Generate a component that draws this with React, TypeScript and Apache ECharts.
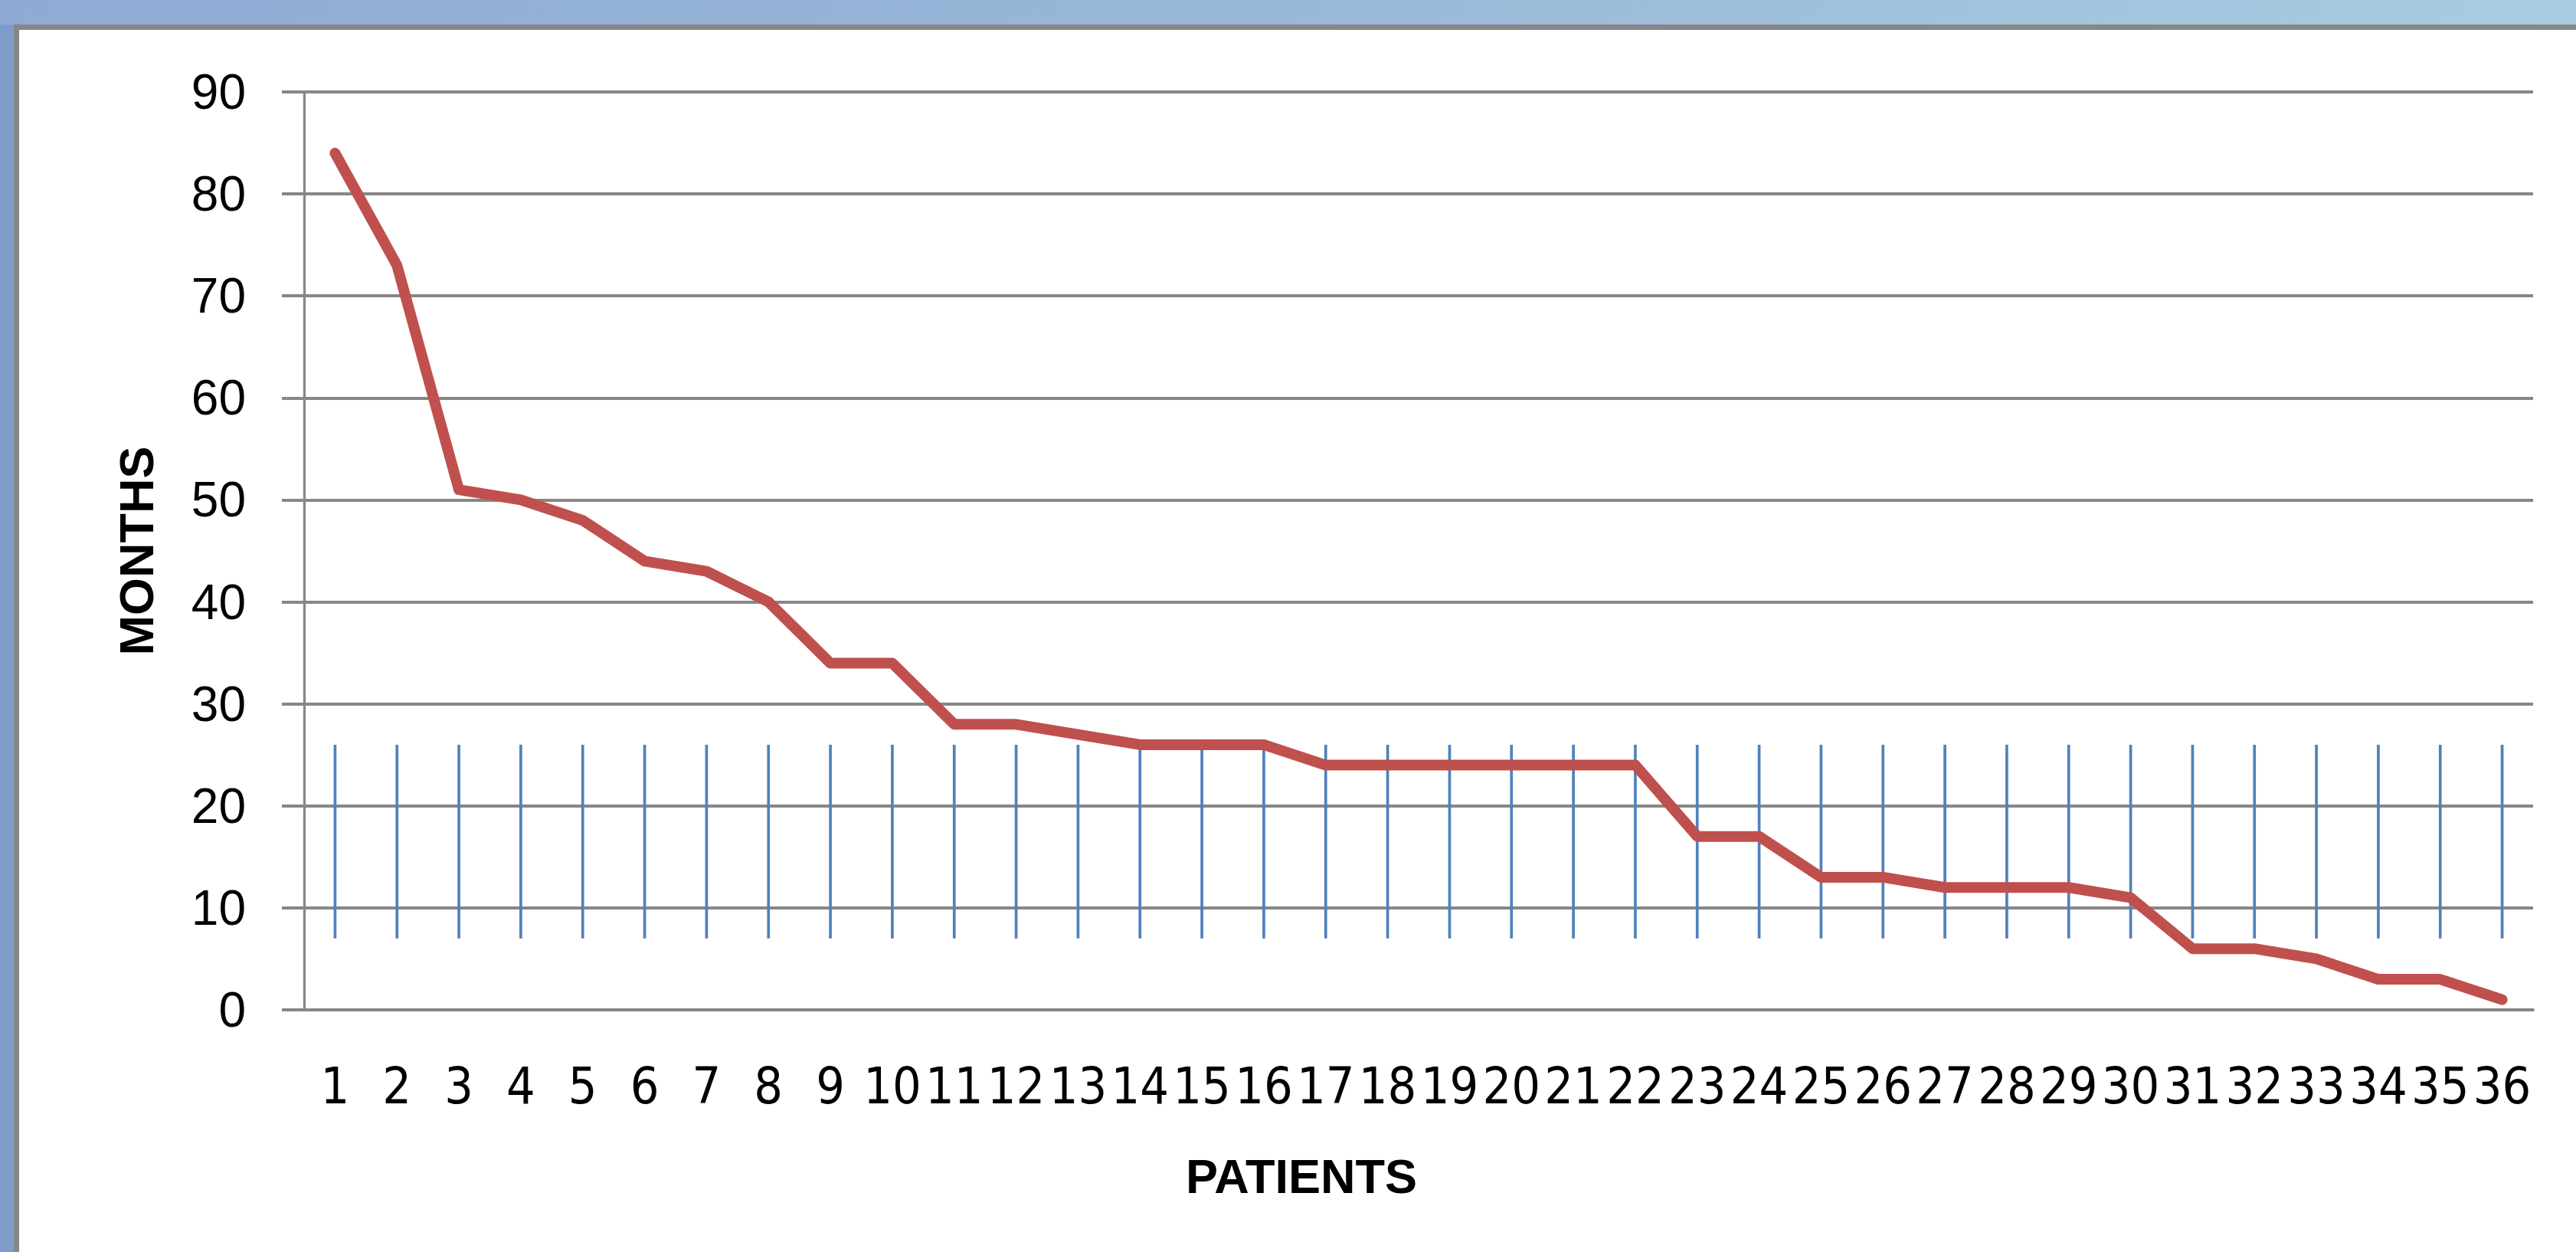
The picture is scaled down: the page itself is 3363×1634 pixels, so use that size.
import React, { useEffect, useRef } from "react";
import * as echarts from "echarts";

const patients = ["1","2","3","4","5","6","7","8","9","10","11","12","13","14","15","16","17","18","19","20","21","22","23","24","25","26","27","28","29","30","31","32","33","34","35","36"];
const months = [84,73,51,50,48,44,43,40,34,34,28,28,27,26,26,26,24,24,24,24,24,24,17,17,13,13,12,12,12,11,6,6,5,3,3,1];
const rangeLow = [7,7,7,7,7,7,7,7,7,7,7,7,7,7,7,7,7,7,7,7,7,7,7,7,7,7,7,7,7,7,7,7,7,7,7,7];
const rangeHigh = [26,26,26,26,26,26,26,26,26,26,26,26,26,26,26,26,26,26,26,26,26,26,26,26,26,26,26,26,26,26,26,26,26,26,26,26];
const yMin = 0;
const yMax = 90;
const yStep = 10;
const xTitle = "PATIENTS";
const yTitle = "MONTHS";

export default function App() {
  const ref = useRef<HTMLDivElement>(null);
  useEffect(() => {
    document.body.style.margin = "0";
    const chart = echarts.init(ref.current!, null, { renderer: "svg" });
    const gray = "#878787";
    const option: any = {
      animation: false,
      backgroundColor: "#ffffff",
      grid: { left: 397, right: 56, top: 120, bottom: 316, containLabel: false },
      xAxis: {
        type: "category",
        data: patients,
        boundaryGap: true,
        axisLine: { show: true, lineStyle: { color: gray, width: 4 } },
        axisTick: { show: false },
        splitLine: { show: false },
        axisLabel: {
          interval: 0,
          margin: 66,
          color: "#000",
          fontSize: 66,
          fontFamily: "'Liberation Sans Narrow', 'DejaVu Sans Condensed', 'Liberation Sans'",
        },
      },
      yAxis: {
        type: "value",
        min: yMin,
        max: yMax,
        interval: yStep,
        name: yTitle,
        nameLocation: "middle",
        nameRotate: 90,
        nameGap: 188,
        nameTextStyle: {
          color: "#000",
          fontSize: 63,
          fontWeight: "bold",
          fontFamily: "'Liberation Sans'",
        },
        axisLine: { show: true, lineStyle: { color: gray, width: 3.3 } },
        axisTick: { show: true, inside: false, length: 29, lineStyle: { color: gray, width: 4 } },
        splitLine: { show: true, lineStyle: { color: gray, width: 3.8 } },
        axisLabel: {
          margin: 76,
          color: "#000",
          fontSize: 64,
          fontFamily: "'Liberation Sans'",
        },
      },
      graphic: [
        {
          type: "rect",
          left: 0,
          top: 0,
          shape: { width: 3363, height: 32 },
          style: {
            fill: new echarts.graphic.LinearGradient(0, 0, 1, 0, [
              { offset: 0, color: "#8FAAD4" },
              { offset: 0.5, color: "#99B8D8" },
              { offset: 1, color: "#A8CCE1" },
            ]),
          },
          silent: true,
        },
        { type: "rect", left: 0, top: 32, shape: { width: 18, height: 1602 }, style: { fill: "#7D9CC9" }, silent: true },
        { type: "rect", left: 18, top: 32, shape: { width: 3345, height: 7 }, style: { fill: gray }, silent: true },
        { type: "rect", left: 18, top: 32, shape: { width: 7, height: 1602 }, style: { fill: gray }, silent: true },
        {
          type: "text",
          x: 1699,
          y: 1535,
          style: {
            text: xTitle,
            fill: "#000",
            fontSize: 63,
            fontWeight: "bold",
            fontFamily: "'Liberation Sans'",
            align: "center",
            verticalAlign: "middle",
          },
          silent: true,
        },
      ],
      series: [
        {
          type: "custom",
          name: "range",
          data: patients.map((p, i) => [i, rangeLow[i], rangeHigh[i]]),
          renderItem: (params: any, api: any) => {
            const lo = api.coord([api.value(0), api.value(1)]);
            const hi = api.coord([api.value(0), api.value(2)]);
            return {
              type: "line",
              shape: { x1: lo[0], y1: lo[1], x2: hi[0], y2: hi[1] },
              style: { stroke: "#4F81BD", lineWidth: 3.7 },
            };
          },
          z: 3,
          silent: true,
        },
        {
          type: "line",
          name: "months",
          data: months,
          showSymbol: false,
          symbol: "none",
          lineStyle: { color: "#C0504D", width: 14, cap: "round", join: "round" },
          z: 5,
          silent: true,
        },
      ],
    };
    chart.setOption(option);
    return () => chart.dispose();
  }, []);
  return <div ref={ref} style={{ position: "fixed", left: 0, top: 0, width: 3363, height: 1634 }} />;
}
